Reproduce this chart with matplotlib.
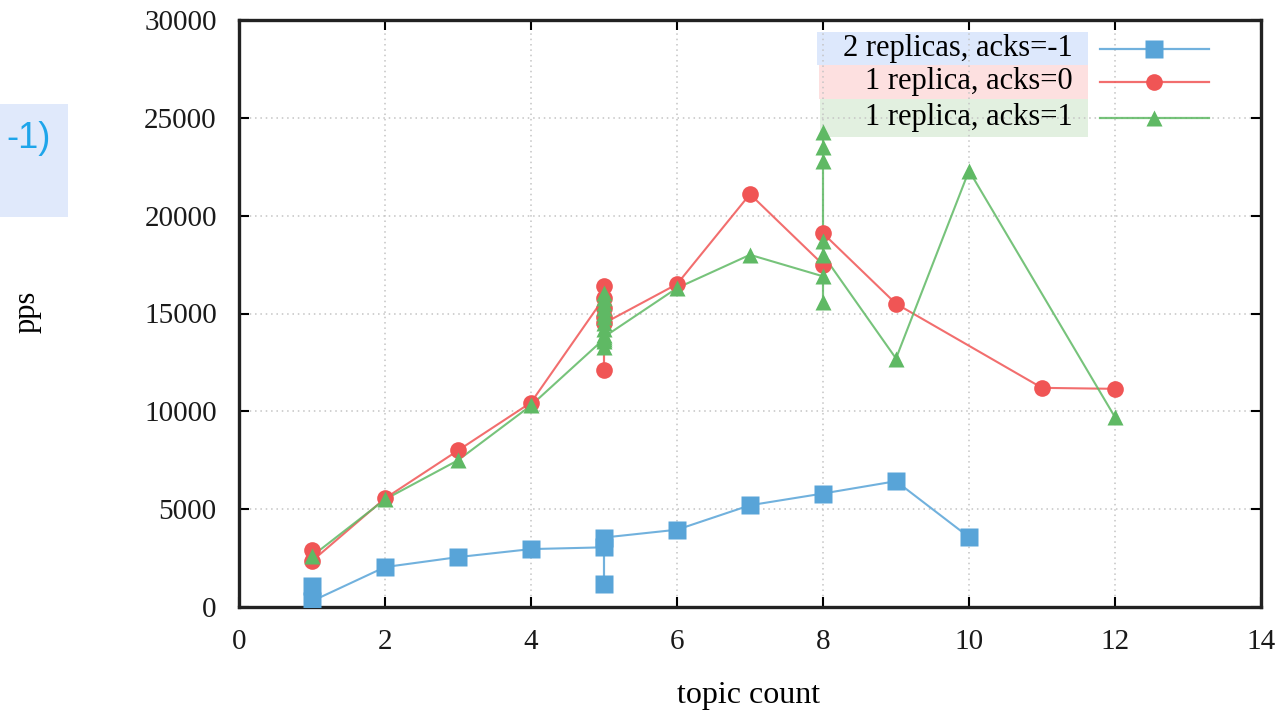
import matplotlib.pyplot as plt
from matplotlib.lines import Line2D
from matplotlib.patches import Rectangle

plt.rcParams['font.family'] = ['Liberation Serif', 'DejaVu Serif']

# series data (several points share one topic count, kept in drawing order)
blue_x = [1, 1, 2, 3, 4, 5, 5, 5, 6, 7, 8, 9, 10]
blue_y = [1050, 300, 2040, 2550, 2960, 3050, 1150, 3550, 3950, 5200, 5800, 6430, 3570]

red_x = [1, 1, 2, 3, 4, 5, 5, 5, 5, 5, 5, 6, 7, 8, 8, 9, 11, 12]
red_y = [2900, 2350, 5550, 8000, 10450, 15800, 16400, 15300, 14800, 12100, 14500,
         16500, 21100, 17500, 19100, 15500, 11200, 11150]

green_x = [1, 2, 3, 4, 5, 5, 5, 5, 5, 5, 5, 5, 5, 5, 5, 5, 5,
           6, 7, 8, 8, 8, 8, 8, 8, 8, 9, 10, 12]
green_y = [2600, 5500, 7500, 10300, 13700, 16050, 15800, 15550, 15300, 15050, 14800,
           14500, 14200, 13900, 13600, 13300, 13800,
           16300, 18000, 16900, 15600, 24300, 23500, 22800, 18700, 18000,
           12700, 22300, 9700]

labels = ['2 replicas, acks=-1', '1 replica, acks=0', '1 replica, acks=1']
colors = ['#58a4d8', '#f05555', '#5fb964']
box_colors = ['#dde8fc', '#fde0e0', '#e2f0e0']
markers = ['s', 'o', '^']
sizes = [13, 12, 12]

xticks = [0, 2, 4, 6, 8, 10, 12, 14]
yticks = [0, 5000, 10000, 15000, 20000, 25000, 30000]

W, H = 1280, 712
fig = plt.figure(figsize=(12.8, 7.12), dpi=100)
ax = fig.add_axes([239 / W, 1 - 607 / H, 1022 / W, 587 / H])
ax.patch.set_alpha(0)

series = [(blue_x, blue_y), (red_x, red_y), (green_x, green_y)]
for (xs, ys), c, m, ms in zip(series, colors, markers, sizes):
    ax.plot(xs, ys, color=c, lw=1.5, alpha=0.85, zorder=3)
    ax.plot(xs, ys, ls='none', marker=m, ms=ms, color=c, mec='none', zorder=4)

ax.set_xlim(0, 14)
ax.set_ylim(0, 30000)
ax.set_xticks(xticks)
ax.set_yticks(yticks)
ax.grid(True, color='#c4c4c4', ls=(0, (1, 2.5)), lw=1.1)
ax.tick_params(direction='in', length=7, width=1.5, top=True, right=True,
               labelsize=21, pad=16, labelcolor='#1a1a1a')
for sp in ax.spines.values():
    sp.set_linewidth(2.4)
    sp.set_color('#222222')

fig.text(27 / W, 1 - 312 / H, 'pps', rotation=90, ha='center', va='center', fontsize=22)
fig.text(749 / W, 1 - 695 / H, 'topic count', ha='center', va='center', fontsize=23)

# legend with coloured label boxes (drawn behind the data)
box_rows = [(817, 32, 65), (819, 65, 99), (820, 99, 137)]
for i, (lab, c, bc, m, ms) in enumerate(zip(labels, colors, box_colors, markers, sizes)):
    x0, y0, y1 = box_rows[i]
    fig.add_artist(Rectangle((x0 / W, 1 - y1 / H), (1088 - x0) / W, (y1 - y0) / H,
                             transform=fig.transFigure, color=bc, lw=0, zorder=-1))
    yc = 1 - (y0 + y1) / 2 / H
    fig.text(1073 / W, yc, lab, ha='right', va='center', fontsize=22, zorder=6)
    fig.add_artist(Line2D([1100 / W, 1209 / W], [yc, yc], transform=fig.transFigure,
                          color=c, lw=1.6, alpha=0.85, zorder=6))
    fig.add_artist(Line2D([1154 / W], [yc], transform=fig.transFigure, ls='none',
                          marker=m, ms=ms, color=c, mec='none', zorder=7))

# clipped note at the left edge
fig.add_artist(Rectangle((0, 1 - 217 / H), 68 / W, 113 / H, transform=fig.transFigure,
                         color='#e0e9fb', lw=0, zorder=-1))
fig.text(6 / W, 1 - 139 / H, '-1)', ha='left', va='center', fontsize=26,
         color='#1ea5ea', family='Liberation Sans')

fig.savefig('out.png', dpi=100)
